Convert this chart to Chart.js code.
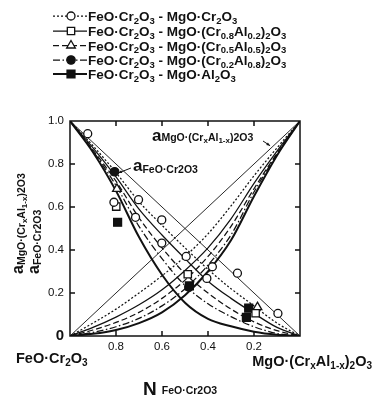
<!DOCTYPE html>
<html>
<head>
<meta charset="utf-8">
<script src="https://cdn.jsdelivr.net/npm/chart.js@4"></script>
<style>
  html, body { margin: 0; padding: 0; background: #fff; }
  #c { display: block; }
</style>
</head>
<body>
<canvas id="c" width="373" height="399"></canvas>
<script>
// mole fraction of FeO.Cr2O3, left (1) to right (0)
const moleFraction = [1, 0.9, 0.8, 0.7, 0.6, 0.5, 0.4, 0.3, 0.2, 0.1, 0];

// activity of FeO.Cr2O3, one curve per system (ideal first)
const aFeoIdeal   = [1, 0.9, 0.8, 0.7, 0.6, 0.5, 0.4, 0.3, 0.2, 0.1, 0];
const aFeoCr      = [1, 0.885, 0.76, 0.625, 0.515, 0.41, 0.31, 0.22, 0.14, 0.06, 0];
const aFeoCr8Al2  = [1, 0.875, 0.74, 0.59, 0.47, 0.36, 0.255, 0.175, 0.105, 0.04, 0];
const aFeoCr5Al5  = [1, 0.865, 0.72, 0.55, 0.41, 0.29, 0.2, 0.125, 0.066, 0.025, 0];
const aFeoCr2Al8  = [1, 0.86, 0.70, 0.51, 0.36, 0.235, 0.15, 0.09, 0.043, 0.012, 0];
const aFeoAl      = [1, 0.855, 0.675, 0.46, 0.285, 0.155, 0.08, 0.045, 0.02, 0.006, 0];

// activity of MgO.(CrxAl1-x)2O3
const aMgoIdeal   = [0, 0.1, 0.2, 0.3, 0.4, 0.5, 0.6, 0.7, 0.8, 0.9, 1];
const aMgoCr      = [0, 0.06, 0.125, 0.2, 0.28, 0.37, 0.475, 0.605, 0.745, 0.875, 1];
const aMgoCr8Al2  = [0, 0.04, 0.088, 0.145, 0.215, 0.305, 0.41, 0.545, 0.71, 0.86, 1];
const aMgoCr5Al5  = [0, 0.028, 0.063, 0.11, 0.175, 0.26, 0.37, 0.51, 0.685, 0.85, 1];
const aMgoCr2Al8  = [0, 0.017, 0.043, 0.082, 0.14, 0.22, 0.33, 0.47, 0.67, 0.845, 1];
const aMgoAl      = [0, 0.01, 0.028, 0.06, 0.11, 0.19, 0.30, 0.445, 0.65, 0.84, 1];

// measured points, [N, a]
const ptsCr     = [[0.923,0.941],[0.809,0.622],[0.702,0.634],[0.715,0.552],[0.601,0.540],[0.601,0.432],
                   [0.495,0.370],[0.381,0.322],[0.405,0.268],[0.272,0.292],[0.096,0.105]];
const ptsCr8Al2 = [[0.799,0.602],[0.488,0.287],[0.193,0.106]];
const ptsCr5Al5 = [[0.796,0.684],[0.185,0.134]];
const ptsCr2Al8 = [[0.806,0.764],[0.483,0.228]];
const ptsAl     = [[0.793,0.529],[0.481,0.233],[0.223,0.130],[0.233,0.087]];

const xTicks = [0.2, 0.4, 0.6, 0.8];
const yTicks = [0.2, 0.4, 0.6, 0.8];

const FONT = '"Liberation Sans", Arial, sans-serif';
const INK = '#111';

//Line look for each system
const lineStyles = [
    {dash: [2, 2], width: 1.25},
    {dash: [], width: 1.25},
    {dash: [6, 3], width: 1.25},
    {dash: [7, 2.5, 1.5, 2.5], width: 1.25},
    {dash: [], width: 2}
];
const markers = [
    {style: 'circle', radius: 4, fill: '#fff'},
    {style: 'rect', radius: 5.2, fill: '#fff'},
    {style: 'triangle', radius: 5, fill: '#fff'},
    {style: 'circle', radius: 4.2, fill: INK},
    {style: 'rect', radius: 5.6, fill: INK}
];

const legendTexts = [
    'FeO·Cr_2O_3 - MgO·Cr_2O_3',
    'FeO·Cr_2O_3 - MgO·(Cr_{0.8}Al_{0.2})_2O_3',
    'FeO·Cr_2O_3 - MgO·(Cr_{0.5}Al_{0.5})_2O_3',
    'FeO·Cr_2O_3 - MgO·(Cr_{0.2}Al_{0.8})_2O_3',
    'FeO·Cr_2O_3 - MgO·Al_2O_3'
];

function toXY(ys) {
    return moleFraction.map((n, i) => ({x: n, y: ys[i]}));
}

function curve(ys, style) {
    return {
        data: toXY(ys),
        borderColor: INK,
        borderWidth: style.width,
        borderDash: style.dash,
        pointRadius: 0,
        fill: false,
        tension: 0.4,
        cubicInterpolationMode: 'monotone',
        order: 2
    };
}

function points(pts, m) {
    return {
        data: pts.map(p => ({x: p[0], y: p[1]})),
        showLine: false,
        pointStyle: m.style,
        pointRadius: m.radius,
        pointBackgroundColor: m.fill,
        pointBorderColor: INK,
        pointBorderWidth: 1.3,
        order: 1
    };
}

const idealStyle = {dash: [], width: 0.9};
const feoCurves = [aFeoCr, aFeoCr8Al2, aFeoCr5Al5, aFeoCr2Al8, aFeoAl];
const mgoCurves = [aMgoCr, aMgoCr8Al2, aMgoCr5Al5, aMgoCr2Al8, aMgoAl];
const pointSets = [ptsCr, ptsCr8Al2, ptsCr5Al5, ptsCr2Al8, ptsAl];

const datasets = [curve(aFeoIdeal, idealStyle), curve(aMgoIdeal, idealStyle)];
feoCurves.forEach((c, i) => datasets.push(curve(c, lineStyles[i])));
mgoCurves.forEach((c, i) => datasets.push(curve(c, lineStyles[i])));
pointSets.forEach((p, i) => datasets.push(points(p, markers[i])));

//Split "Cr_2O_3" style strings into normal / subscript parts
function parseRich(str) {
    const parts = [];
    let buf = '';
    for (let i = 0; i < str.length; i++) {
        const ch = str[i];
        if (ch === '_') {
            if (buf) parts.push({t: buf, sub: false});
            buf = '';
            if (str[i + 1] === '{') {
                const end = str.indexOf('}', i);
                parts.push({t: str.slice(i + 2, end), sub: true});
                i = end;
            } else {
                parts.push({t: str[i + 1], sub: true});
                i++;
            }
        } else {
            buf += ch;
        }
    }
    if (buf) parts.push({t: buf, sub: false});
    return parts;
}

function drawRich(ctx, str, x, y, size, subSize, align) {
    const parts = parseRich(str);
    const fonts = parts.map(p => 'bold ' + (p.sub ? subSize : size) + 'px ' + FONT);
    let total = 0;
    parts.forEach((p, i) => { ctx.font = fonts[i]; total += ctx.measureText(p.t).width; });
    let cx = align === 'right' ? x - total : (align === 'center' ? x - total / 2 : x);
    ctx.textBaseline = 'alphabetic';
    ctx.textAlign = 'left';
    parts.forEach((p, i) => {
        ctx.font = fonts[i];
        ctx.fillText(p.t, cx, p.sub ? y + size * 0.22 : y);
        cx += ctx.measureText(p.t).width;
    });
    return total;
}

function drawMarker(ctx, m, x, y) {
    ctx.save();
    ctx.fillStyle = m.fill;
    ctx.strokeStyle = INK;
    ctx.lineWidth = 1.3;
    ctx.setLineDash([]);
    ctx.beginPath();
    if (m.style === 'circle') {
        ctx.arc(x, y, m.radius, 0, Math.PI * 2);
    } else if (m.style === 'rect') {
        const s = m.radius * Math.SQRT1_2;
        ctx.rect(x - s, y - s, 2 * s, 2 * s);
    } else {
        const r = m.radius;
        ctx.moveTo(x, y - r);
        ctx.lineTo(x + r * 0.866, y + r * 0.5);
        ctx.lineTo(x - r * 0.866, y + r * 0.5);
        ctx.closePath();
    }
    ctx.fill();
    ctx.stroke();
    ctx.restore();
}

function arrow(ctx, x1, y1, x2, y2) {
    ctx.save();
    ctx.strokeStyle = INK;
    ctx.fillStyle = INK;
    ctx.lineWidth = 1;
    ctx.beginPath();
    ctx.moveTo(x1, y1);
    ctx.lineTo(x2, y2);
    ctx.stroke();
    const ang = Math.atan2(y2 - y1, x2 - x1);
    ctx.beginPath();
    ctx.moveTo(x2, y2);
    ctx.lineTo(x2 - 4 * Math.cos(ang - 0.4), y2 - 4 * Math.sin(ang - 0.4));
    ctx.lineTo(x2 - 4 * Math.cos(ang + 0.4), y2 - 4 * Math.sin(ang + 0.4));
    ctx.closePath();
    ctx.fill();
    ctx.restore();
}

//Frame, inside ticks, legend and labels
const decorations = {
    id: 'decorations',
    afterDraw(chart) {
        const ctx = chart.ctx;
        const a = chart.chartArea;
        const xs = chart.scales.x, ys = chart.scales.y;
        ctx.save();
        ctx.strokeStyle = INK;
        ctx.lineWidth = 1.5;
        ctx.setLineDash([]);
        ctx.strokeRect(a.left, a.top, a.right - a.left, a.bottom - a.top);
        ctx.beginPath();
        xTicks.forEach(v => {
            const px = xs.getPixelForValue(v);
            ctx.moveTo(px, a.top); ctx.lineTo(px, a.top + 5);
            ctx.moveTo(px, a.bottom); ctx.lineTo(px, a.bottom - 5);
        });
        yTicks.forEach(v => {
            const py = ys.getPixelForValue(v);
            ctx.moveTo(a.left, py); ctx.lineTo(a.left + 5, py);
            ctx.moveTo(a.right, py); ctx.lineTo(a.right - 5, py);
        });
        ctx.stroke();

        //Legend
        ctx.fillStyle = INK;
        const rows = [16, 31, 45.5, 60, 74];
        rows.forEach((ry, i) => {
            ctx.save();
            ctx.lineWidth = lineStyles[i].width;
            ctx.setLineDash(lineStyles[i].dash);
            ctx.beginPath();
            ctx.moveTo(53, ry); ctx.lineTo(87, ry);
            ctx.stroke();
            ctx.restore();
            drawMarker(ctx, markers[i], 71, ry);
            drawRich(ctx, legendTexts[i], 88, ry + 5, 13.5, 9.5, 'left');
        });

        //In-plot labels
        let w = drawRich(ctx, 'a', 152, 141, 17, 11, 'left');
        drawRich(ctx, 'MgO·(Cr_xAl_{1-x})2O3', 152 + w, 141, 10.5, 8, 'left');
        w = drawRich(ctx, 'a', 133, 171, 17, 11, 'left');
        drawRich(ctx, 'FeO·Cr2O3', 133 + w, 173, 10.5, 8, 'left');
        arrow(ctx, 263, 141, xs.getPixelForValue(0.13), ys.getPixelForValue(0.885));
        arrow(ctx, 131, 168, xs.getPixelForValue(0.79), ys.getPixelForValue(0.758));

        //Y titles (rotated)
        ctx.save();
        ctx.translate(23, 274);
        ctx.rotate(-Math.PI / 2);
        w = drawRich(ctx, 'a', 0, 0, 16, 10, 'left');
        drawRich(ctx, 'MgO·(Cr_xAl_{1-x})2O3', w, 2, 10.5, 8, 'left');
        ctx.restore();
        ctx.save();
        ctx.translate(39, 274);
        ctx.rotate(-Math.PI / 2);
        w = drawRich(ctx, 'a', 0, 0, 16, 10, 'left');
        drawRich(ctx, 'FeO·Cr2O3', w, 2, 10.5, 8, 'left');
        ctx.restore();

        //Axis end labels
        drawRich(ctx, 'FeO·Cr_2O_3', 16, 363, 14.5, 10, 'left');
        drawRich(ctx, 'MgO·(Cr_xAl_{1-x})_2O_3', 372, 366, 14.5, 10, 'right');
        w = drawRich(ctx, 'N', 143, 395, 19, 12, 'left');
        drawRich(ctx, 'FeO·Cr2O3', 143 + w + 5, 394, 10.5, 8, 'left');
        ctx.restore();
    }
};

const ctx = document.getElementById('c').getContext('2d');
new Chart(ctx, {
    type: 'line',
    data: {datasets: datasets},
    options: {
        responsive: false,
        animation: false,
        layout: {padding: {top: 121, right: 73, left: 0, bottom: 0}},
        plugins: {legend: {display: false}, tooltip: {enabled: false}},
        scales: {
            x: {
                type: 'linear', reverse: true, min: 0, max: 1,
                ticks: {
                    stepSize: 0.2, padding: 4, color: INK,
                    font: {family: FONT, size: 11.5},
                    maxRotation: 0,
                    callback: v => (v < 0.05 || v > 0.95) ? '' : v.toFixed(1)
                },
                grid: {display: false, drawTicks: false},
                border: {display: false},
                afterFit(s) { s.height = 63; }
            },
            y: {
                type: 'linear', min: 0, max: 1,
                ticks: {
                    stepSize: 0.2, padding: 6, color: INK,
                    font: ctx2 => ({family: FONT, size: ctx2.tick && ctx2.tick.value === 0 ? 15 : 11.5, weight: ctx2.tick && ctx2.tick.value === 0 ? 'bold' : 'normal'}),
                    callback: v => v === 0 ? '0' : v.toFixed(1)
                },
                grid: {display: false, drawTicks: false},
                border: {display: false},
                afterFit(s) { s.width = 70; }
            }
        }
    },
    plugins: [decorations]
});
</script>
</body>
</html>
